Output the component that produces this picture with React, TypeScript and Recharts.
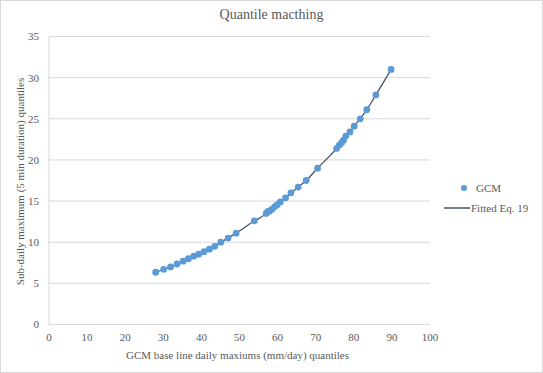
import { ComposedChart, Scatter, Line, XAxis, YAxis, CartesianGrid, Label } from "recharts";

// GCM base line daily maximums (mm/day) quantiles
const gcmX = [
  28.0, 30.1, 31.9, 33.6, 35.2, 36.6, 38.0, 39.3, 40.7, 42.1, 43.5, 45.1, 47.0, 49.1,
  53.9, 57.0, 57.4, 57.9, 58.5, 59.2, 59.9, 60.7, 62.1, 63.5, 65.4, 67.5, 70.5,
  75.5, 76.2, 76.8, 77.3, 77.9, 79.0, 80.1, 81.7, 83.4, 85.8, 89.8,
];
// Sub-daily maximum (5 min duration) quantiles
const gcmY = [
  6.35, 6.7, 7.0, 7.35, 7.7, 8.0, 8.3, 8.55, 8.85, 9.15, 9.5, 10.0, 10.5, 11.1,
  12.6, 13.5, 13.7, 13.8, 14.0, 14.3, 14.55, 14.9, 15.4, 16.0, 16.7, 17.5, 19.0,
  21.4, 21.8, 22.1, 22.4, 22.9, 23.4, 24.1, 25.0, 26.1, 27.9, 31.0,
];
// Fitted Eq. 19 (line runs through the quantile pairs)
const fittedY = gcmY;

const xTicks = [0, 10, 20, 30, 40, 50, 60, 70, 80, 90, 100];
const yTicks = [0, 5, 10, 15, 20, 25, 30, 35];

const data = gcmX.map((x, i) => ({ x, gcm: gcmY[i], fit: fittedY[i] }));

const FONT = "'Liberation Serif', 'DejaVu Serif', serif";
const TEXT = "#595959";

const Dot = (props: any) => {
  const { cx, cy } = props;
  if (cx == null || cy == null) return null;
  return <circle cx={cx} cy={cy} r={3.4} fill="#5B9BD5" />;
};

const ChartLegend = () => (
  <div
    style={{
      position: "absolute",
      left: 443,
      top: 177,
      fontFamily: FONT,
      fontSize: 11,
      color: TEXT,
      lineHeight: "20px",
    }}
  >
    <div style={{ display: "flex", alignItems: "center" }}>
      <svg width={26} height={10}>
        <circle cx={20} cy={5} r={3} fill="#5B9BD5" />
      </svg>
      <span style={{ marginLeft: 6 }}>GCM</span>
    </div>
    <div style={{ display: "flex", alignItems: "center" }}>
      <svg width={26} height={10}>
        <line x1={0} y1={5} x2={26} y2={5} stroke="#44546A" strokeWidth={1.5} />
      </svg>
      <span style={{ marginLeft: 1 }}>Fitted Eq. 19</span>
    </div>
  </div>
);

export default function App() {
  return (
    <div
      style={{
        position: "fixed",
        left: 0,
        top: 0,
        width: 543,
        height: 373,
        boxSizing: "border-box",
        border: "1px solid #D9D9D9",
        background: "#fff",
      }}
    >
      <div style={{ position: "absolute", left: 0, right: 0, top: 6, textAlign: "center", fontFamily: FONT, fontSize: 14, color: TEXT }}>
        Quantile macthing
      </div>
      <ComposedChart
        width={541}
        height={371}
        data={data}
        margin={{ top: 35.5, right: 112, bottom: 17.5, left: 0 }}
      >
        <CartesianGrid vertical={false} stroke="#D9D9D9" />
        <XAxis
          type="number"
          dataKey="x"
          domain={[0, 100]}
          ticks={xTicks}
          height={30}
          tickLine={false}
          tickSize={0}
          tickMargin={9}
          stroke="#D9D9D9"
          tick={{ fill: TEXT, fontSize: 11, fontFamily: FONT }}
        >
          <Label
            content={({ viewBox }: any) => (
              <text
                x={viewBox.x + viewBox.width / 2 - 2}
                y={viewBox.y + 34}
                textAnchor="middle"
                fill={TEXT}
                fontSize={11}
                fontFamily={FONT}
              >
                GCM base line daily maxiums (mm/day) quantiles
              </text>
            )}
          />
        </XAxis>
        <YAxis
          type="number"
          domain={[0, 35]}
          ticks={yTicks}
          width={48}
          tickLine={false}
          tickSize={0}
          tickMargin={10}
          stroke="#D9D9D9"
          tick={{ fill: TEXT, fontSize: 11, fontFamily: FONT }}
        >
          <Label
            content={({ viewBox }: any) => {
              const cx = 19;
              const cy = viewBox.y + viewBox.height / 2 + 1;
              return (
                <text
                  x={cx}
                  y={cy}
                  transform={`rotate(-90 ${cx} ${cy})`}
                  textAnchor="middle"
                  dominantBaseline="central"
                  fill={TEXT}
                  fontSize={11}
                  fontFamily={FONT}
                >
                  Sub-daily maximum (5 min duration) quantiles
                </text>
              );
            }}
          />
        </YAxis>
        <Line
          dataKey="fit"
          type="monotone"
          stroke="#44546A"
          strokeWidth={1.3}
          dot={false}
          activeDot={false}
          isAnimationActive={false}
        />
        <Scatter dataKey="gcm" shape={<Dot />} isAnimationActive={false} />
      </ComposedChart>
      <ChartLegend />
    </div>
  );
}
